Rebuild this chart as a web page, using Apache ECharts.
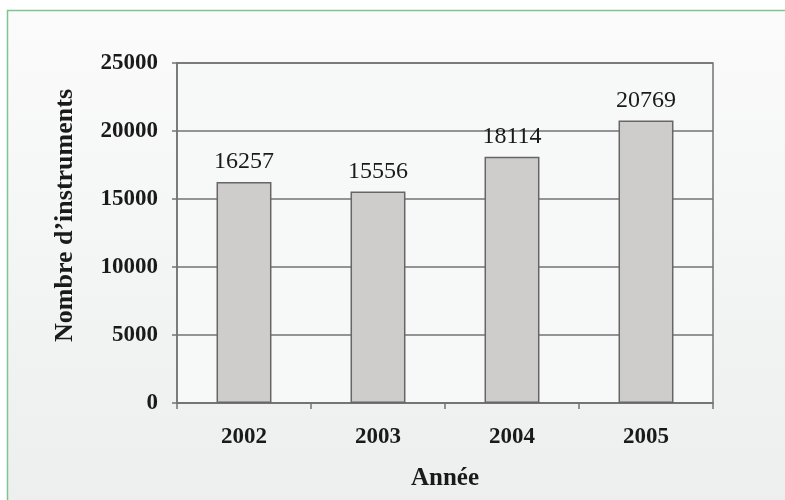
<!DOCTYPE html>
<html>
<head>
<meta charset="utf-8">
<script src="https://cdn.jsdelivr.net/npm/echarts@6/dist/echarts.min.js"></script>
<style>
  html, body { margin: 0; padding: 0; background: #ffffff; }
  #chart { width: 785px; height: 500px; }
</style>
</head>
<body>
<div id="chart"></div>
<script>
// Nombre d'instruments par année
const years = ['2002', '2003', '2004', '2005'];
const instruments = [16257, 15556, 18114, 20769];
const yTicks = [0, 5000, 10000, 15000, 20000, 25000];
const xTitle = 'Année';
const yTitle = "Nombre d\u2019instruments";

const serif = '"Liberation Serif", "Times New Roman", serif';
const lineGray = '#737373';

const chart = echarts.init(document.getElementById('chart'), null, { renderer: 'canvas' });

chart.setOption({
  backgroundColor: '#ffffff',
  animation: false,
  graphic: [
    {
      type: 'rect',
      z: -10,
      silent: true,
      shape: { x: 7.5, y: 10.5, width: 800, height: 500 },
      style: {
        fill: {
          type: 'linear', x: 0, y: 0, x2: 0, y2: 1,
          colorStops: [
            { offset: 0, color: '#fbfbfb' },
            { offset: 1, color: '#ecefee' }
          ]
        },
        stroke: '#7cc58e',
        lineWidth: 1.5
      }
    },
    {
      type: 'text',
      left: 52,
      top: 89,
      rotation: Math.PI / 2,
      silent: true,
      style: {
        text: yTitle,
        font: 'bold 26px ' + serif,
        fill: '#1a1a1a',
        x: 0,
        y: 0
      }
    }
  ],
  grid: {
    left: 177,
    right: 72,
    top: 63,
    bottom: 97,
    show: true,
    backgroundColor: '#f7f8f8',
    borderColor: lineGray,
    borderWidth: 1.5
  },
  xAxis: {
    type: 'category',
    data: years,
    name: xTitle,
    nameLocation: 'middle',
    nameGap: 63,
    nameTextStyle: { fontFamily: serif, fontWeight: 'bold', fontSize: 25, color: '#1a1a1a' },
    axisLine: { lineStyle: { color: lineGray, width: 1.5 } },
    axisTick: { show: true, length: 6, lineStyle: { color: lineGray, width: 1.5 } },
    axisLabel: { fontFamily: serif, fontWeight: 'bold', fontSize: 23, color: '#1a1a1a', margin: 23 }
  },
  yAxis: {
    type: 'value',
    min: yTicks[0],
    max: yTicks[yTicks.length - 1],
    interval: yTicks[1] - yTicks[0],
    axisLine: { show: true, lineStyle: { color: lineGray, width: 1.5 } },
    axisTick: { show: true, length: 5, lineStyle: { color: lineGray, width: 1.5 } },
    axisLabel: {
      fontFamily: serif, fontWeight: 'bold', fontSize: 23, color: '#1a1a1a', margin: 19,
      formatter: (v) => String(v)
    },
    splitLine: { show: true, lineStyle: { color: lineGray, width: 1.5 } }
  },
  series: [{
    type: 'bar',
    data: instruments,
    barWidth: '41%',
    itemStyle: { color: '#cfcdcb', borderColor: '#666666', borderWidth: 1.5 },
    label: {
      show: true,
      position: 'top',
      distance: 8,
      fontFamily: serif,
      fontSize: 24,
      color: '#1a1a1a'
    }
  }]
});
</script>
</body>
</html>
